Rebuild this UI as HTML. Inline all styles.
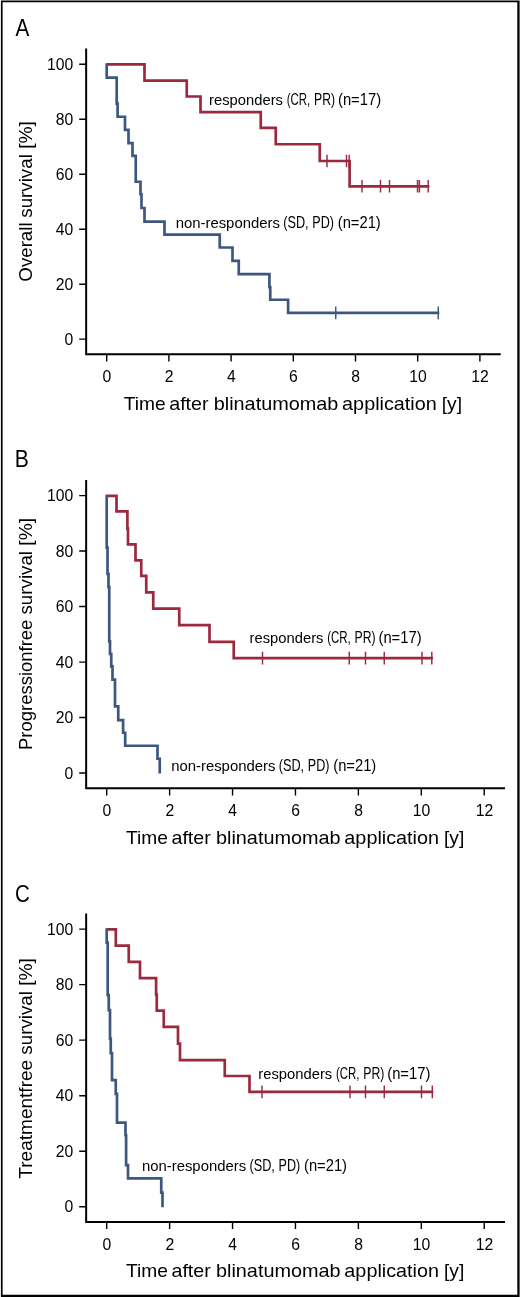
<!DOCTYPE html>
<html lang="en">
<head>
<meta charset="utf-8">
<title>Survival after blinatumomab application</title>
<style>
html,body{margin:0;padding:0;background:#fff;}
body{width:520px;height:1297px;overflow:hidden;}
svg{display:block;}
svg text{font-family:"Liberation Sans",sans-serif;fill:#000;}
</style>
</head>
<body>
<svg width="520" height="1297" viewBox="0 0 520 1297">
<rect x="0" y="0" width="520" height="1297" fill="#fff"/>
<path d="M0.9,0.55H519.6V1297H0.9Z M2.6,2.3V1294.7H517.3V2.3Z" fill="#000" fill-rule="evenodd"/>
<g id="panelA">
<g transform="matrix(1,0,0,1.000546,0,0.1651)">
<path d="M86.15,48.4V354.0H500.75" stroke="#000" stroke-width="2.0" fill="none" stroke-linejoin="miter"/>
<path d="M79.2,64.0H86.15M79.2,119.0H86.15M79.2,174.0H86.15M79.2,229.0H86.15M79.2,284.0H86.15M79.2,338.8H86.15M106.70,354.0V361.10M168.90,354.0V361.10M231.10,354.0V361.10M293.30,354.0V361.10M355.50,354.0V361.10M417.70,354.0V361.10M479.90,354.0V361.10" stroke="#000" stroke-width="1.4" fill="none"/>
<path d="M106.7,64.2H144.5V80.4H186.75V96.3H200.5V111.9H260.75V127.6H275.75V144H319.75V160.75H349.6V186.1H429.4" stroke="#9b2a3e" stroke-width="2.7" fill="none" stroke-linejoin="miter" stroke-linecap="butt"/>
<path d="M327,154.45V167.05M346.5,154.45V167.05M349.2,154.45V167.05" stroke="#9b2a3e" stroke-width="1.45" fill="none"/>
<path d="M362,179.70V192.30M380.5,179.70V192.30M389.5,179.70V192.30M417.5,179.70V192.30M419.4,179.70V192.30M428.2,179.70V192.30" stroke="#9b2a3e" stroke-width="1.45" fill="none"/>
<path d="M106.7,63.1V77.5H116.7V103.5H117.6V116.5H125V129.6H128.5V142.8H132.5V155.7H135.75V181.5H140.5V194H141.5V207.7H144.5V221.3H164.5V234.3H219.75V247.2H232.5V260.6H238.75V273.75H269.4V286.8H270.25V299.4H288.1V312.5H439.3" stroke="#3d587f" stroke-width="2.7" fill="none" stroke-linejoin="miter" stroke-linecap="butt"/>
<path d="M335.75,306.20V318.80M438.25,306.20V318.80" stroke="#3d587f" stroke-width="1.45" fill="none"/>
</g>
<text x="46.95" y="69.65" font-size="16.3" textLength="26.25" lengthAdjust="spacingAndGlyphs">100</text>
<text x="55.70" y="124.69" font-size="16.3" textLength="17.50" lengthAdjust="spacingAndGlyphs">80</text>
<text x="55.70" y="179.73" font-size="16.3" textLength="17.50" lengthAdjust="spacingAndGlyphs">60</text>
<text x="55.70" y="234.77" font-size="16.3" textLength="17.50" lengthAdjust="spacingAndGlyphs">40</text>
<text x="55.70" y="289.81" font-size="16.3" textLength="17.50" lengthAdjust="spacingAndGlyphs">20</text>
<text x="64.45" y="344.65" font-size="16.3" textLength="8.75" lengthAdjust="spacingAndGlyphs">0</text>
<text x="102.53" y="382.0" font-size="16.3" textLength="8.75" lengthAdjust="spacingAndGlyphs">0</text>
<text x="164.72" y="382.0" font-size="16.3" textLength="8.75" lengthAdjust="spacingAndGlyphs">2</text>
<text x="226.93" y="382.0" font-size="16.3" textLength="8.75" lengthAdjust="spacingAndGlyphs">4</text>
<text x="289.12" y="382.0" font-size="16.3" textLength="8.75" lengthAdjust="spacingAndGlyphs">6</text>
<text x="351.32" y="382.0" font-size="16.3" textLength="8.75" lengthAdjust="spacingAndGlyphs">8</text>
<text x="409.15" y="382.0" font-size="16.3" textLength="17.50" lengthAdjust="spacingAndGlyphs">10</text>
<text x="471.35" y="382.0" font-size="16.3" textLength="17.50" lengthAdjust="spacingAndGlyphs">12</text>
<text y="36.1" font-size="24"><tspan x="15.60" textLength="13.81" lengthAdjust="spacingAndGlyphs">A</tspan></text>
<text transform="translate(31.8,280.7) rotate(-90)" y="0" font-size="19.0"><tspan x="-0.98" textLength="59.25" lengthAdjust="spacingAndGlyphs">Overall</tspan> <tspan x="63.01" textLength="63.53" lengthAdjust="spacingAndGlyphs">survival</tspan> <tspan x="131.84" textLength="27.73" lengthAdjust="spacingAndGlyphs">[%]</tspan></text>
<text y="409.6" font-size="19.0"><tspan x="123.85" textLength="41.94" lengthAdjust="spacingAndGlyphs">Time</tspan> <tspan x="169.22" textLength="39.37" lengthAdjust="spacingAndGlyphs">after</tspan> <tspan x="213.69" textLength="124.69" lengthAdjust="spacingAndGlyphs">blinatumomab</tspan> <tspan x="342.12" textLength="94.68" lengthAdjust="spacingAndGlyphs">application</tspan> <tspan x="441.74" textLength="20.29" lengthAdjust="spacingAndGlyphs">[y]</tspan></text>
<text y="105.0" font-size="15.0"><tspan x="209.12" textLength="73.82" lengthAdjust="spacingAndGlyphs">responders</tspan> <tspan x="286.69" font-size="16.2" textLength="23.59" lengthAdjust="spacingAndGlyphs">(CR,</tspan> <tspan x="314.05" font-size="16.2" textLength="21.12" lengthAdjust="spacingAndGlyphs">PR)</tspan> <tspan x="337.99" font-size="16.2" textLength="43.13" lengthAdjust="spacingAndGlyphs">(n=17)</tspan></text>
<text y="228.0" font-size="15.0"><tspan x="175.66" textLength="104.27" lengthAdjust="spacingAndGlyphs">non-responders</tspan> <tspan x="283.27" font-size="16.2" textLength="25.31" lengthAdjust="spacingAndGlyphs">(SD,</tspan> <tspan x="312.28" font-size="16.2" textLength="21.66" lengthAdjust="spacingAndGlyphs">PD)</tspan> <tspan x="337.74" font-size="16.2" textLength="43.02" lengthAdjust="spacingAndGlyphs">(n=21)</tspan></text>
</g>
<g id="panelB">
<g transform="matrix(1,0,0,0.999280,0,0.5569)">
<path d="M86.15,479.8V788.3H505" stroke="#000" stroke-width="2.0" fill="none" stroke-linejoin="miter"/>
<path d="M79.2,495.4H86.15M79.2,550.9H86.15M79.2,606.4H86.15M79.2,662.0H86.15M79.2,717.5H86.15M79.2,773.0H86.15M106.70,788.3V795.40M169.62,788.3V795.40M232.54,788.3V795.40M295.46,788.3V795.40M358.38,788.3V795.40M421.30,788.3V795.40M484.22,788.3V795.40" stroke="#000" stroke-width="1.4" fill="none"/>
<path d="M106.7,495.6H116.5V511.2H127.4V528.5H128V544.2H135.5V560.2H141.25V575.8H146.25V592.3H153.25V608.6H179.25V625H209.5V641.8H233.75V658H432.9" stroke="#9b2a3e" stroke-width="2.7" fill="none" stroke-linejoin="miter" stroke-linecap="butt"/>
<path d="M262.5,651.70V664.30M349.25,651.70V664.30M365.5,651.70V664.30M384.25,651.70V664.30M422,651.70V664.30M431.8,651.70V664.30" stroke="#9b2a3e" stroke-width="1.45" fill="none"/>
<path d="M106.7,494.5V547.5H107.5V573.75H108.5V587H109.25V641.25H110V653.75H111.25V666.25H112.5V679.5H115V706.25H118.25V720H123.1V732.7H125.2V745.75H157.5V758.75H159.75V773.6" stroke="#3d587f" stroke-width="2.7" fill="none" stroke-linejoin="miter" stroke-linecap="butt"/>
</g>
<text x="46.95" y="501.05" font-size="16.3" textLength="26.25" lengthAdjust="spacingAndGlyphs">100</text>
<text x="55.70" y="556.59" font-size="16.3" textLength="17.50" lengthAdjust="spacingAndGlyphs">80</text>
<text x="55.70" y="612.13" font-size="16.3" textLength="17.50" lengthAdjust="spacingAndGlyphs">60</text>
<text x="55.70" y="667.77" font-size="16.3" textLength="17.50" lengthAdjust="spacingAndGlyphs">40</text>
<text x="55.70" y="723.31" font-size="16.3" textLength="17.50" lengthAdjust="spacingAndGlyphs">20</text>
<text x="64.45" y="778.85" font-size="16.3" textLength="8.75" lengthAdjust="spacingAndGlyphs">0</text>
<text x="102.53" y="815.9" font-size="16.3" textLength="8.75" lengthAdjust="spacingAndGlyphs">0</text>
<text x="165.44" y="815.9" font-size="16.3" textLength="8.75" lengthAdjust="spacingAndGlyphs">2</text>
<text x="228.37" y="815.9" font-size="16.3" textLength="8.75" lengthAdjust="spacingAndGlyphs">4</text>
<text x="291.28" y="815.9" font-size="16.3" textLength="8.75" lengthAdjust="spacingAndGlyphs">6</text>
<text x="354.20" y="815.9" font-size="16.3" textLength="8.75" lengthAdjust="spacingAndGlyphs">8</text>
<text x="412.75" y="815.9" font-size="16.3" textLength="17.50" lengthAdjust="spacingAndGlyphs">10</text>
<text x="475.67" y="815.9" font-size="16.3" textLength="17.50" lengthAdjust="spacingAndGlyphs">12</text>
<text y="467.4" font-size="24"><tspan x="14.84" textLength="14.07" lengthAdjust="spacingAndGlyphs">B</tspan></text>
<text transform="translate(32.0,748.5) rotate(-90)" y="0" font-size="19.0"><tspan x="-1.46" textLength="130.31" lengthAdjust="spacingAndGlyphs">Progressionfree</tspan> <tspan x="134.01" textLength="63.53" lengthAdjust="spacingAndGlyphs">survival</tspan> <tspan x="202.84" textLength="27.73" lengthAdjust="spacingAndGlyphs">[%]</tspan></text>
<text y="843.7" font-size="19.0"><tspan x="126.10" textLength="41.94" lengthAdjust="spacingAndGlyphs">Time</tspan> <tspan x="171.47" textLength="39.37" lengthAdjust="spacingAndGlyphs">after</tspan> <tspan x="215.94" textLength="124.69" lengthAdjust="spacingAndGlyphs">blinatumomab</tspan> <tspan x="344.37" textLength="94.68" lengthAdjust="spacingAndGlyphs">application</tspan> <tspan x="443.99" textLength="20.29" lengthAdjust="spacingAndGlyphs">[y]</tspan></text>
<text y="642.5" font-size="15.0"><tspan x="249.62" textLength="73.82" lengthAdjust="spacingAndGlyphs">responders</tspan> <tspan x="327.19" font-size="16.2" textLength="23.59" lengthAdjust="spacingAndGlyphs">(CR,</tspan> <tspan x="354.55" font-size="16.2" textLength="21.12" lengthAdjust="spacingAndGlyphs">PR)</tspan> <tspan x="378.49" font-size="16.2" textLength="43.13" lengthAdjust="spacingAndGlyphs">(n=17)</tspan></text>
<text y="770.7" font-size="15.0"><tspan x="171.16" textLength="104.27" lengthAdjust="spacingAndGlyphs">non-responders</tspan> <tspan x="278.77" font-size="16.2" textLength="25.31" lengthAdjust="spacingAndGlyphs">(SD,</tspan> <tspan x="307.78" font-size="16.2" textLength="21.66" lengthAdjust="spacingAndGlyphs">PD)</tspan> <tspan x="333.24" font-size="16.2" textLength="43.02" lengthAdjust="spacingAndGlyphs">(n=21)</tspan></text>
</g>
<g id="panelC">
<g transform="matrix(1,0,0,1.000000,0,0.1000)">
<path d="M86.15,913.4V1221.9H505" stroke="#000" stroke-width="2.0" fill="none" stroke-linejoin="miter"/>
<path d="M79.2,929.0H86.15M79.2,984.5H86.15M79.2,1040.0H86.15M79.2,1095.6H86.15M79.2,1151.1H86.15M79.2,1206.6H86.15M106.70,1221.9V1229.00M169.62,1221.9V1229.00M232.54,1221.9V1229.00M295.46,1221.9V1229.00M358.38,1221.9V1229.00M421.30,1221.9V1229.00M484.22,1221.9V1229.00" stroke="#000" stroke-width="1.4" fill="none"/>
<path d="M106.7,929.3H115.8V945.6H128.75V961.8H140V978H156.1V994.5H156.75V1010.5H163.75V1026.8H178V1043.6H180V1060H224.75V1075.9H249.5V1091.75H433.3" stroke="#9b2a3e" stroke-width="2.7" fill="none" stroke-linejoin="miter" stroke-linecap="butt"/>
<path d="M262,1085.45V1098.05M350,1085.45V1098.05M365.5,1085.45V1098.05M384.25,1085.45V1098.05M421.5,1085.45V1098.05M432.3,1085.45V1098.05" stroke="#9b2a3e" stroke-width="1.45" fill="none"/>
<path d="M106.7,928.1V942.5H107.7V995H108.75V1010H110V1038.75H110.75V1053H112V1080H115.75V1093.75H117V1122.5H125.5V1135H126.1V1165H128V1178.25H161.25V1192.5H162.5V1207.2" stroke="#3d587f" stroke-width="2.7" fill="none" stroke-linejoin="miter" stroke-linecap="butt"/>
</g>
<text x="46.95" y="934.65" font-size="16.3" textLength="26.25" lengthAdjust="spacingAndGlyphs">100</text>
<text x="55.70" y="990.19" font-size="16.3" textLength="17.50" lengthAdjust="spacingAndGlyphs">80</text>
<text x="55.70" y="1045.73" font-size="16.3" textLength="17.50" lengthAdjust="spacingAndGlyphs">60</text>
<text x="55.70" y="1101.37" font-size="16.3" textLength="17.50" lengthAdjust="spacingAndGlyphs">40</text>
<text x="55.70" y="1156.91" font-size="16.3" textLength="17.50" lengthAdjust="spacingAndGlyphs">20</text>
<text x="64.45" y="1212.45" font-size="16.3" textLength="8.75" lengthAdjust="spacingAndGlyphs">0</text>
<text x="102.53" y="1249.5" font-size="16.3" textLength="8.75" lengthAdjust="spacingAndGlyphs">0</text>
<text x="165.44" y="1249.5" font-size="16.3" textLength="8.75" lengthAdjust="spacingAndGlyphs">2</text>
<text x="228.37" y="1249.5" font-size="16.3" textLength="8.75" lengthAdjust="spacingAndGlyphs">4</text>
<text x="291.28" y="1249.5" font-size="16.3" textLength="8.75" lengthAdjust="spacingAndGlyphs">6</text>
<text x="354.20" y="1249.5" font-size="16.3" textLength="8.75" lengthAdjust="spacingAndGlyphs">8</text>
<text x="412.75" y="1249.5" font-size="16.3" textLength="17.50" lengthAdjust="spacingAndGlyphs">10</text>
<text x="475.67" y="1249.5" font-size="16.3" textLength="17.50" lengthAdjust="spacingAndGlyphs">12</text>
<text y="901.6" font-size="24"><tspan x="15.03" textLength="14.80" lengthAdjust="spacingAndGlyphs">C</tspan></text>
<text transform="translate(32.0,1178.2) rotate(-90)" y="0" font-size="19.0"><tspan x="-0.50" textLength="118.88" lengthAdjust="spacingAndGlyphs">Treatmentfree</tspan> <tspan x="123.56" textLength="63.53" lengthAdjust="spacingAndGlyphs">survival</tspan> <tspan x="192.39" textLength="27.73" lengthAdjust="spacingAndGlyphs">[%]</tspan></text>
<text y="1277.3" font-size="19.0"><tspan x="126.10" textLength="41.94" lengthAdjust="spacingAndGlyphs">Time</tspan> <tspan x="171.47" textLength="39.37" lengthAdjust="spacingAndGlyphs">after</tspan> <tspan x="215.94" textLength="124.69" lengthAdjust="spacingAndGlyphs">blinatumomab</tspan> <tspan x="344.37" textLength="94.68" lengthAdjust="spacingAndGlyphs">application</tspan> <tspan x="443.99" textLength="20.29" lengthAdjust="spacingAndGlyphs">[y]</tspan></text>
<text y="1079.3" font-size="15.0"><tspan x="258.37" textLength="73.82" lengthAdjust="spacingAndGlyphs">responders</tspan> <tspan x="335.94" font-size="16.2" textLength="23.59" lengthAdjust="spacingAndGlyphs">(CR,</tspan> <tspan x="363.30" font-size="16.2" textLength="21.12" lengthAdjust="spacingAndGlyphs">PR)</tspan> <tspan x="387.24" font-size="16.2" textLength="43.13" lengthAdjust="spacingAndGlyphs">(n=17)</tspan></text>
<text y="1170.5" font-size="15.0"><tspan x="141.91" textLength="104.27" lengthAdjust="spacingAndGlyphs">non-responders</tspan> <tspan x="249.52" font-size="16.2" textLength="25.31" lengthAdjust="spacingAndGlyphs">(SD,</tspan> <tspan x="278.53" font-size="16.2" textLength="21.66" lengthAdjust="spacingAndGlyphs">PD)</tspan> <tspan x="303.99" font-size="16.2" textLength="43.02" lengthAdjust="spacingAndGlyphs">(n=21)</tspan></text>
</g>
</svg>
</body>
</html>
